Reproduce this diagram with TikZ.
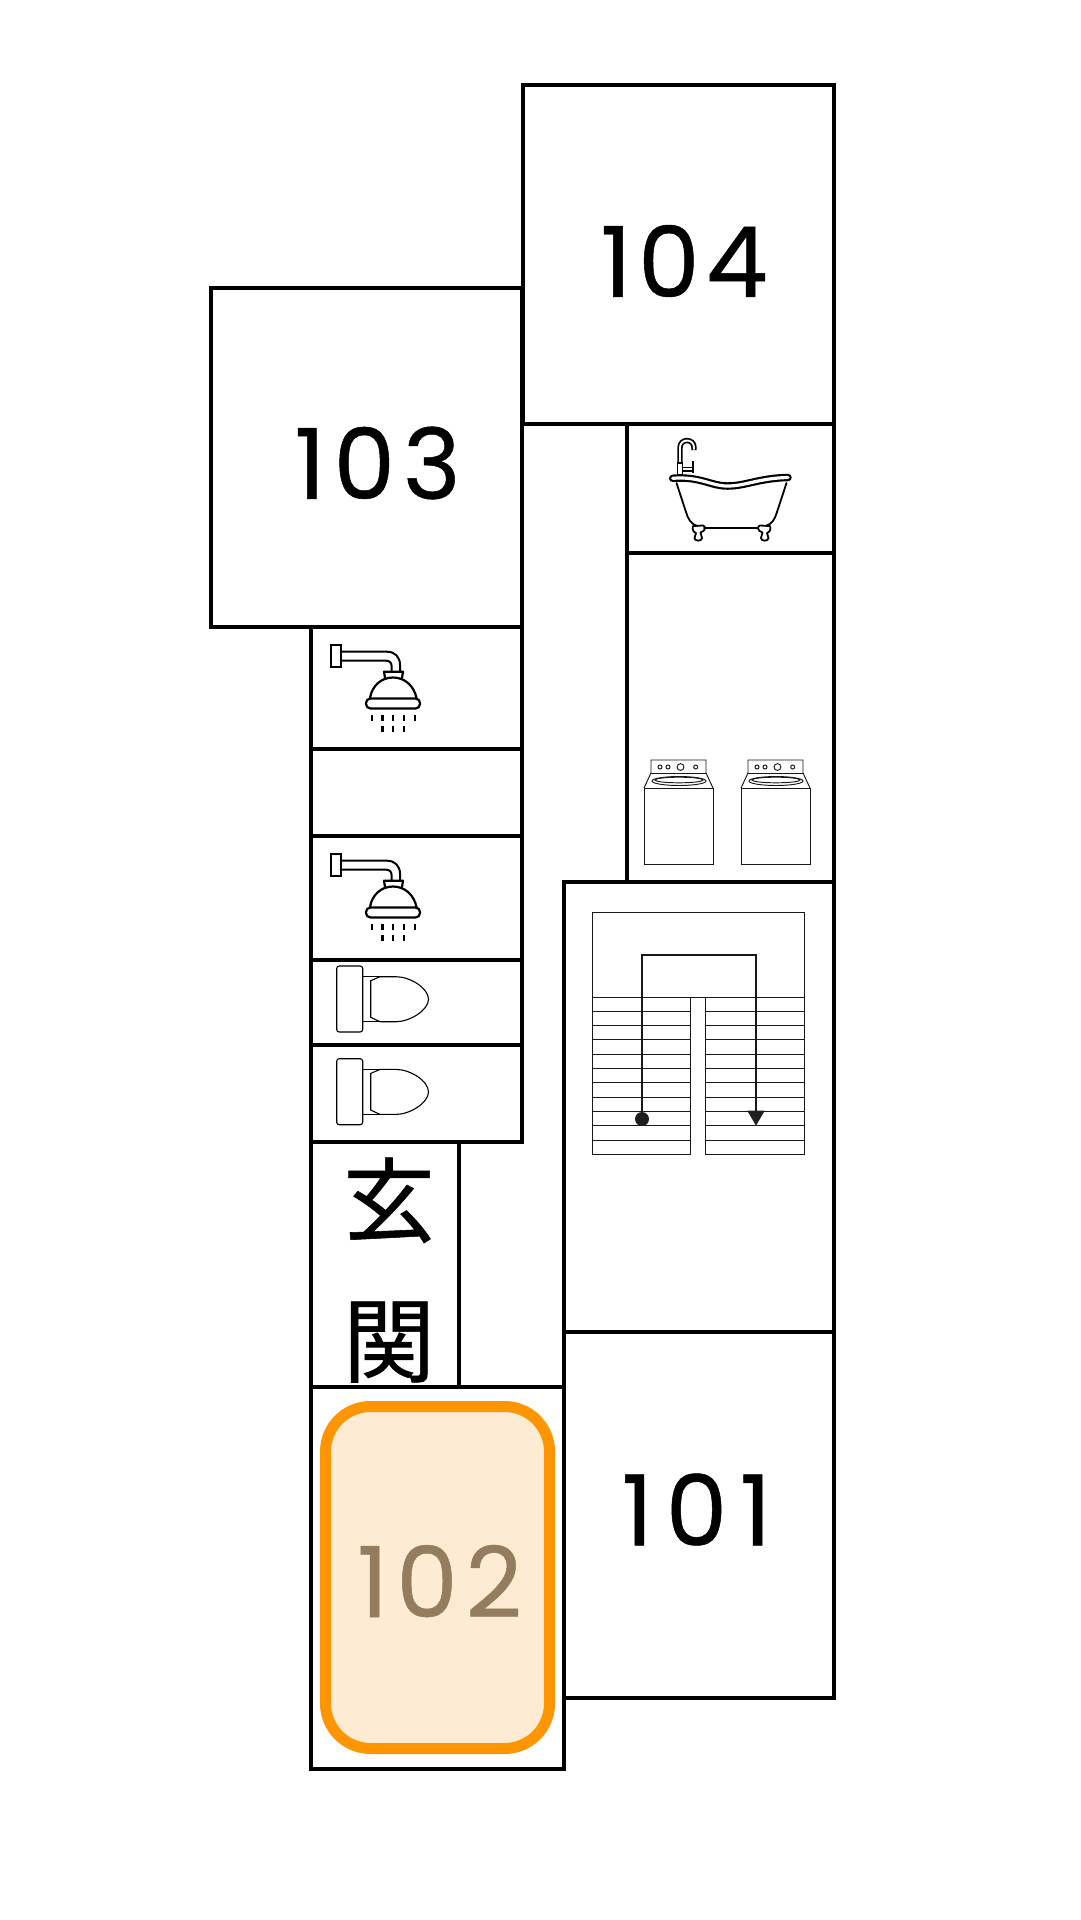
\documentclass[tikz,border=0pt]{standalone}
\usepackage{fontspec}
\setmainfont{Poppins}
\newfontfamily\numfont[FakeBold=0.5]{Poppins}
\newfontfamily\jpfont[FakeBold=0.6]{Noto Sans CJK JP}
\definecolor{hiOrange}{HTML}{FF9500}
\definecolor{hiFill}{HTML}{FEEBD3}
\definecolor{hiText}{HTML}{947C5E}
\tikzset{
  wall/.style={line width=4.2pt,line join=miter,line cap=rect},
  thinline/.style={line width=1.1pt,line join=miter},
  fineline/.style={line width=0.95pt,line join=miter,draw=black!90},
  iconline/.style={line width=2.2pt,line join=round,line cap=round},
  roomno/.style={inner sep=0pt,font=\numfont\fontsize{98}{98}\selectfont},
  drop/.style={line width=2.4pt,line cap=butt}
}
\newcommand{\showericon}[1]{%
\begin{scope}[shift={(0,#1)}]
  \draw[line width=2pt,line join=miter] (330.5,645) rectangle (340.7,666.7);
  \draw[iconline,line width=2pt] (340.7,651.7) -- (387,651.7) .. controls (395,651.7) and (400,657) .. (400,665) -- (400,671.7);
  \draw[iconline,line width=2pt] (340.7,660.7) -- (386,660.7) .. controls (390,660.7) and (391.7,663) .. (391.7,667) -- (391.7,671.7);
  \draw[iconline] (385,678) -- (384,671.7) -- (403,671.7) -- (402,678);
  \draw[iconline] (370,698) .. controls (372,686) and (381,677.5) .. (393,677.5) .. controls (405,677.5) and (414,686) .. (416.5,698);
  \draw[iconline,rounded corners=4.5pt] (366,698.5) rectangle (420,708.5);
  \foreach \dx in {371.7,382.3,392.7,404,414.7} \draw[drop] (\dx,715) -- (\dx,720.5);
  \foreach \dx in {382.3,392.7,404} \draw[drop] (\dx,726) -- (\dx,731.5);
\end{scope}}
\newcommand{\toileticon}[1]{%
\begin{scope}[shift={(0,#1)}]
  \draw[thinline,rounded corners=2.5pt] (336.7,966) rectangle (362.7,1032);
  \draw[thinline] (362.7,976.7) -- (382,976.7);
  \draw[thinline] (362.7,1021.7) -- (382,1021.7);
  \draw[thinline] (370.7,980.7) -- (380,976.7) -- (396,976.7) .. controls (410,976.7) and (428.5,988) .. (428.5,999.3) .. controls (428.5,1010) and (410,1021.7) .. (396,1021.7) -- (380,1021.7) -- (370.7,1017.3) -- cycle;
\end{scope}}
\newcommand{\washericon}[1]{%
\begin{scope}[shift={(#1,0)}]
  \draw[fineline] (644,788) rectangle (713,864);
  \draw[fineline] (644,788) -- (651,773) -- (651,760) -- (706,760) -- (706,773) -- (713,788);
  \draw[fineline] (651,773) -- (706,773);
  \draw[fineline] (679,781) ellipse (27 and 4.5);
  \draw[fineline] (679,780) ellipse (24 and 2.8);
  \draw[fineline] (660,767) circle (2);
  \draw[fineline] (668,767) circle (2);
  \draw[fineline] (680.5,767) circle (3.4);
  \draw[fineline] (695.7,767) circle (2);
\end{scope}}
\begin{document}
\begin{tikzpicture}[x=1pt,y=-1pt]
\useasboundingbox[fill=white] (0,0) rectangle (1080,1920);

% rooms
\draw[wall] (522.7,85.3) rectangle (834,424);
\draw[wall] (210.7,287.7) rectangle (522,626.7);
\draw[wall] (627,424) -- (627,882);
\draw[wall] (834,424) -- (834,882);
\draw[wall] (627,553) -- (834,553);
\draw[wall] (564,882) rectangle (834,1331.7);
\draw[wall] (564,1331.7) rectangle (834,1698);
\draw[wall] (311,626.7) rectangle (522,1142);
\draw[wall] (311,749) -- (522,749);
\draw[wall] (311,836) -- (522,836);
\draw[wall] (311,960) -- (522,960);
\draw[wall] (311,1045) -- (522,1045);
\draw[wall] (311,1142) -- (311,1387);
\draw[wall] (459,1142) -- (459,1387);
\draw[wall] (311,1387) rectangle (564,1769);

% highlight
\draw[draw=hiOrange,fill=hiFill,line width=11pt,rounded corners=45pt] (325.5,1406.5) rectangle (549.5,1748.5);

% room labels
\node[roomno] (r104) at (684,261) {\addfontfeature{LetterSpace=6.5}104};
\node[roomno] (r103) at (377.5,463) {\addfontfeature{LetterSpace=8}103};
\node[roomno] (r101) at (696.5,1509.5) {\addfontfeature{LetterSpace=13}101};
\node[roomno,text=hiText] (r102) at (439.5,1581) {\addfontfeature{LetterSpace=8}102};
\node[inner sep=0pt,align=center,font=\jpfont\fontsize{92}{140}\selectfont] (entry) at (389,1270) {玄\\関};

% bath
\draw[line width=7.5pt,line cap=round] (672.7,478.3) .. controls (700,476) and (712,486.5) .. (728,486) .. controls (745,486) and (760,478) .. (788,477.5);
\draw[white,line width=3.2pt,line cap=round] (672.7,478.3) .. controls (700,476) and (712,486.5) .. (728,486) .. controls (745,486) and (760,478) .. (788,477.5);
\draw[iconline,line width=1.8pt] (676.5,483) -- (686,512) .. controls (688,519) and (691,524) .. (697,526);
\draw[iconline,line width=1.8pt] (786.5,483) -- (777,512) .. controls (775,519) and (772,524) .. (766,526);
\draw[iconline,line width=1.8pt] (704,528.3) -- (757,528.3);
\draw[iconline,line width=1.8pt] (693,526) -- (703,525.5) .. controls (706,526) and (706,531) .. (700.5,532.5) -- (702,538) .. controls (702,541.5) and (694.5,541.5) .. (694.5,538) -- (696,533) .. controls (693,532) and (692,529) .. (693,526);
\draw[iconline,line width=1.8pt] (770,526) -- (760,525.5) .. controls (757,526) and (757,531) .. (762.5,532.5) -- (761,538) .. controls (761,541.5) and (768.5,541.5) .. (768.5,538) -- (767,533) .. controls (770,532) and (771,529) .. (770,526);
\draw[line width=5.4pt] (680,463) -- (680,447.5) .. controls (680,438.2) and (694,438.2) .. (694,447.5) -- (694,450);
\draw[white,line width=1.9pt] (680,463) -- (680,447.5) .. controls (680,438.2) and (694,438.2) .. (694,447.5) -- (694,449.5);
\draw[line width=1.8pt,fill=white] (677.5,463) rectangle (682.5,475);
\draw[line width=1.6pt] (682.5,467.3) -- (693,467.3) (682.5,471) -- (693,471) (693,461) -- (693,473);

% showers
\showericon{0}
\showericon{209}

% toilets
\toileticon{0}
\toileticon{92.7}

% washers
\washericon{0}
\washericon{97}

% stairs
\begin{scope}[fineline,shift={(-0.5,0)}]
  \draw (593,997) -- (593,912) -- (805,912) -- (805,997) -- cycle;
  \draw (593,997) rectangle (691,1154.3);
  \draw (706,997) rectangle (805,1154.3);
  \foreach \k in {1,...,10} {
    \pgfmathsetmacro{\yy}{997+14.3*\k}
    \draw (593,\yy) -- (691,\yy);
    \draw (706,\yy) -- (805,\yy);
  }
\end{scope}
\coordinate (stairfrom) at (642,1119);
\coordinate (stairto) at (756,1112);
\draw[line width=1.3pt,black!90] (stairfrom) -- (642,955) -- (756,955) -- (stairto);
\fill[black!88] (stairfrom) circle (7);
\fill[black!88] (747.3,1110.7) -- (764.7,1110.7) -- (756,1125.7) -- cycle;
\end{tikzpicture}
\end{document}
